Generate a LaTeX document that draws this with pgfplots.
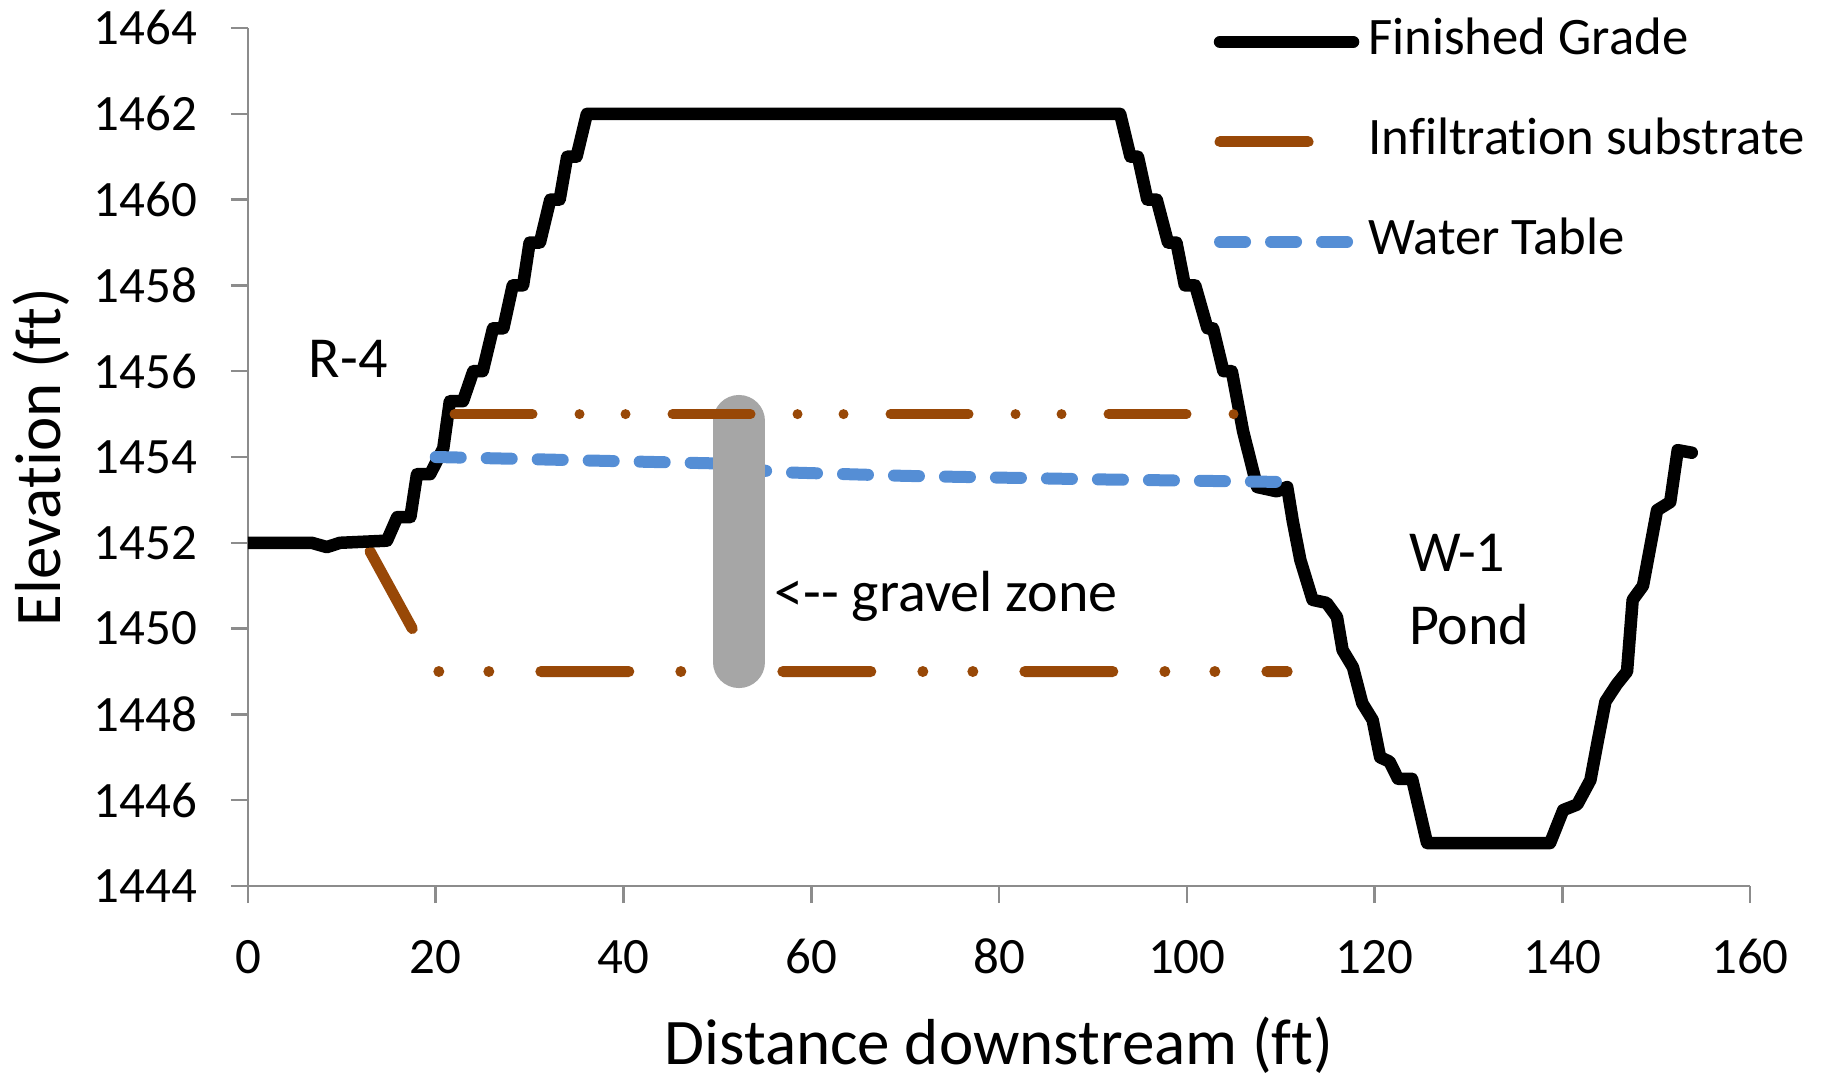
\documentclass[border=0pt]{standalone}
\usepackage{fontspec}
\setmainfont{Carlito}[Ligatures={NoCommon}]
\usepackage{pgfplots}
\pgfplotsset{compat=1.18}

\definecolor{substrate}{HTML}{984807}
\definecolor{watertable}{HTML}{558ED5}
\definecolor{gravel}{HTML}{A6A6A6}
\definecolor{axisgray}{HTML}{8C8C8C}

% line styles (1 px of the reference = 0.01cm)
\tikzset{
  grade/.style={black, line width=0.125cm, line join=round, line cap=round},
  substrateA/.style={substrate, line width=0.11cm, line cap=round, line join=round,
    dash pattern=on 0.88cm off 0.52cm on 0cm off 0.50cm on 0cm off 0.52cm},
  substrateB/.style={substrate, line width=0.10cm, line cap=round,
    dash pattern=on 0.78cm off 0.47cm on 0cm off 0.46cm on 0cm off 0.47cm},
  wtable/.style={watertable, line width=0.12cm, line cap=round, line join=round,
    dash pattern=on 0.25cm off 0.26cm},
}

\begin{document}
\begin{tikzpicture}
\begin{axis}[
    scale only axis,
    width=15.02cm, height=8.58cm,
    xmin=0, xmax=160, ymin=1444, ymax=1464,
    xtick={0,20,...,160},
    ytick={1444,1446,...,1464},
    minor tick num=0,
    axis x line=bottom, axis y line=left,
    axis line style={-, draw=axisgray, line width=0.025cm},
    tick align=outside,
    major tick length=0.17cm,
    tick style={draw=axisgray, line width=0.025cm},
    /pgf/number format/1000 sep={},
    /pgf/number format/assume math mode=true,
    tick label style={font=\fontsize{14.5}{17}\selectfont},
    xticklabel style={anchor=base, yshift=-0.70cm},
    yticklabel style={anchor=east, inner sep=0pt, xshift=-0.33cm},
    xlabel={Distance downstream (ft)},
    ylabel={Elevation (ft)},
    label style={font=\fontsize{18.5}{22}\selectfont, inner sep=0pt},
    xlabel style={at={(axis description cs:0.5,-0.186)}, anchor=center},
    ylabel style={at={(axis description cs:-0.1378,0.5)}, anchor=center},
    legend image code/.code={\draw[#1] (0cm,0cm) -- (1.33cm,0cm);},
    legend cell align=left,
    legend style={at={(axis description cs:0.643,1.009)}, anchor=north west,
      draw=none, fill=none, inner sep=0pt, outer sep=0pt,
      row sep=0.57cm, column sep=0.09cm,
      font=\fontsize{15}{18}\selectfont,
      nodes={inner sep=0pt, text height=0.34cm, text depth=0.09cm}},
]

\addlegendimage{grade}
\addlegendentry{Finished Grade}
\addlegendimage{substrateA}
\addlegendentry{Infiltration substrate}
\addlegendimage{wtable}
\addlegendentry{Water Table}

% lower substrate boundary
\addplot[substrateA, forget plot] coordinates {
  (13.0,1451.8) (20.0,1449.0) (110.7,1449.0)
};

% finished grade profile
\addplot[grade, forget plot] coordinates {
  (0,1452.0) (6.8,1452.0) (8.4,1451.9) (9.8,1452.0) (14.8,1452.05)
  (15.9,1452.6) (17.3,1452.6) (18.0,1453.6) (19.4,1453.6) (20.8,1454.2)
  (21.5,1455.3) (22.9,1455.3) (24.0,1456.0) (25.0,1456.0) (26.1,1457.0)
  (27.2,1457.0) (28.2,1458.0) (29.3,1458.0) (30.0,1459.0) (31.1,1459.0)
  (32.2,1460.0) (33.2,1460.0) (34.0,1461.0) (35.0,1461.0) (36.1,1462.0)
  (92.9,1462.0) (94.0,1461.0) (94.8,1461.0) (95.8,1460.0) (96.8,1460.0)
  (98.0,1459.0) (98.9,1459.0) (99.8,1458.0) (100.9,1458.0) (102.2,1457.0)
  (102.8,1457.0) (103.9,1456.0) (104.8,1456.0) (106.0,1454.6) (107.5,1453.3)
  (109.6,1453.2) (110.7,1453.3) (111.3,1452.5) (112.1,1451.6) (113.4,1450.67)
  (114.9,1450.6) (116.0,1450.27) (116.6,1449.5) (117.7,1449.1) (118.7,1448.26)
  (119.8,1447.87) (120.6,1447.0) (121.6,1446.9) (122.5,1446.5) (124.0,1446.5)
  (125.6,1445.0) (138.7,1445.0) (140.1,1445.77) (141.6,1445.9) (143.0,1446.47)
  (143.8,1447.4) (144.6,1448.3) (145.8,1448.7) (146.9,1449.0) (147.5,1450.67)
  (148.6,1451.0) (150.1,1452.76) (151.5,1452.95) (152.3,1454.16) (153.8,1454.1)
};

% water table
\addplot[wtable, forget plot] coordinates {
  (20.0,1454.0) (30.0,1453.95) (40.0,1453.9) (50.0,1453.85) (53.0,1453.75)
  (56.0,1453.65) (70.0,1453.56) (90.0,1453.48) (109.6,1453.42)
};

% gravel zone
\addplot[gravel, line width=0.52cm, line cap=round, forget plot] coordinates {
  (52.3,1449.22) (52.3,1454.84)
};

% upper substrate boundary
\addplot[substrateB, forget plot] coordinates {
  (22.0,1455.0) (105.8,1455.0)
};

\node[anchor=base west, inner sep=0pt, font=\fontsize{16.5}{20}\selectfont]
  at (axis cs:6.4,1455.86) {R-4};
\node[anchor=base west, inner sep=0pt, font=\fontsize{16.5}{20}\selectfont]
  at (axis cs:56.0,1450.39) {<-{}- gravel zone};
\node[anchor=base west, inner sep=0pt, font=\fontsize{16.5}{20}\selectfont]
  at (axis cs:123.6,1451.32) {W-1};
\node[anchor=base west, inner sep=0pt, font=\fontsize{16.5}{20}\selectfont]
  at (axis cs:123.6,1449.62) {Pond};
\end{axis}
\path (-2.48cm,-1.93cm) rectangle (15.77cm,8.86cm);
\end{tikzpicture}
\end{document}
